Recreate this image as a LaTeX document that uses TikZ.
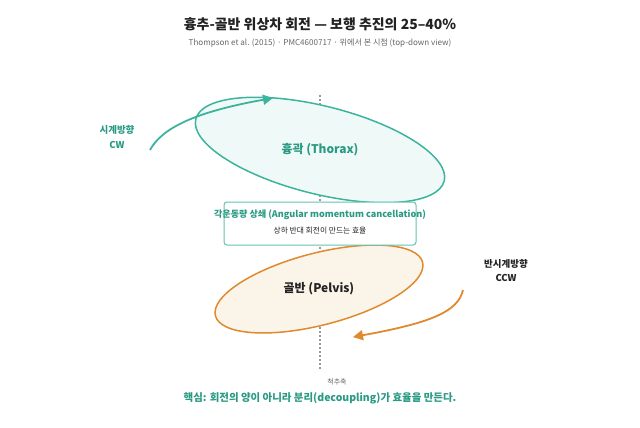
\documentclass[tikz,border=0pt]{standalone}
\usepackage{fontspec}
\setmainfont{Noto Sans CJK KR}
\usetikzlibrary{arrows.meta,shapes.geometric}
\definecolor{tealline}{HTML}{3DB39E}
\definecolor{tealtext}{HTML}{2A9A84}
\definecolor{tealfill}{HTML}{EFFAF8}
\definecolor{orangeline}{HTML}{E0892E}
\definecolor{orangefill}{HTML}{FBF4E8}
\definecolor{darktext}{HTML}{222222}
\definecolor{graytext}{HTML}{666666}

\begin{document}
\begin{tikzpicture}[x=1bp,y=1bp,
		segment/.style={ellipse,inner sep=0pt,line width=1.5bp},
		turn/.style={line width=1.8bp,-{Triangle[length=10bp,width=10bp]}},
		lbl/.style={font=\bfseries\fontsize{12}{14}\selectfont}]
		\useasboundingbox (0,0) rectangle (640,427);

		\node[font=\bfseries\fontsize{14}{16}\selectfont,text=darktext] (title) at (320,403) {흉추-골반 위상차 회전 — 보행 추진의 25–40\%};
		\node[font=\fontsize{8.1}{10}\selectfont,text=graytext] (subtitle) at (320,384) {Thompson et al. (2015) · PMC4600717 · 위에서 본 시점 (top-down view)};

		% spine axis
		\coordinate (spinetop) at (320,332);
		\coordinate (spinebot) at (320,57);
		\draw[gray!80,line width=1.5bp,dash pattern=on 1.5bp off 2.5bp] (spinetop) -- (spinebot);
		\node[font=\fontsize{7}{8}\selectfont,text=graytext] (spinelbl) at (337,45) {척추축};

		\node[segment,draw=tealline,fill=tealfill,minimum width=256bp,minimum height=88bp,rotate=-14] (thorax) at (320,277) {};
		\node[segment,draw=orangeline,fill=orangefill,minimum width=214bp,minimum height=72bp,rotate=14.5] (pelvis) at (319,138) {};
		\node[lbl,text=tealtext] (thoraxlbl) at (thorax.center) {흉곽 (Thorax)};
		\node[lbl,text=darktext] (pelvislbl) at (pelvis.center) {골반 (Pelvis)};

		\node[draw=tealline!80,fill=white,line width=1bp,rounded corners=3bp,minimum width=192bp,minimum height=43bp] (cancel) at (320,203.5) {};
		\node[font=\bfseries\fontsize{9.1}{11}\selectfont,text=tealtext] (cancelhd) at (320,212) {각운동량 상쇄 (Angular momentum cancellation)};
		\node[font=\fontsize{7.8}{9}\selectfont,text=darktext] (cancelsub) at (320,196) {상하 반대 회전이 만드는 효율};

		% rotation arrows
		\coordinate (cwstart) at (150,277);
		\coordinate (cwend) at (273,329);
		\draw[turn,tealline] (cwstart) .. controls (162,299) and (195,315) .. (cwend);
		\coordinate (ccwstart) at (463,137);
		\coordinate (ccwend) at (353,90);
		\draw[turn,orangeline] (ccwstart) .. controls (458,115) and (430,104) .. (ccwend);

		\node[font=\bfseries\fontsize{9.5}{15}\selectfont,text=tealtext,align=center] (cwlbl) at (117,289.5) {시계방향\\CW};
		\node[font=\bfseries\fontsize{9.5}{14}\selectfont,text=darktext,align=center] (ccwlbl) at (506,156) {반시계방향\\CCW};

		\node[font=\bfseries\fontsize{10.5}{12}\selectfont,text=tealtext] (keypoint) at (320,29) {핵심: 회전의 양이 아니라 분리(decoupling)가 효율을 만든다.};
	\end{tikzpicture}
\end{document}
